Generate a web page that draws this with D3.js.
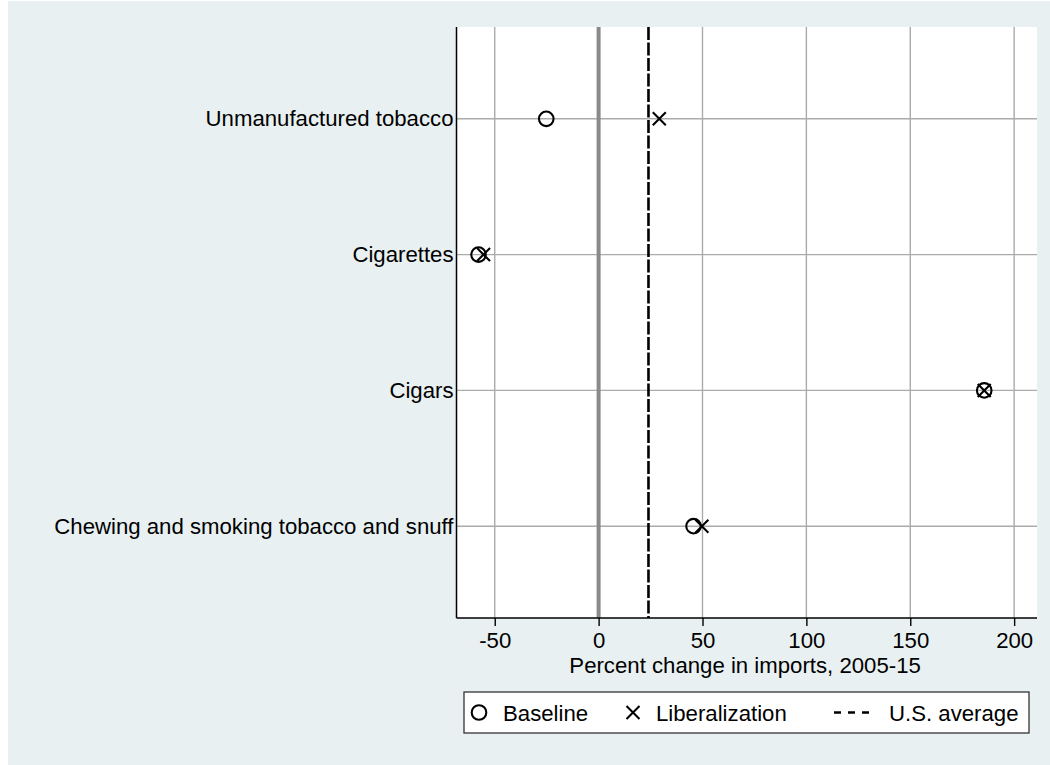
<!DOCTYPE html>
<html>
<head>
<meta charset="utf-8">
<script src="https://cdn.jsdelivr.net/npm/d3@7"></script>
<style>
  html, body { margin: 0; padding: 0; background: #ffffff; }
  svg { display: block; }
  text { font-family: Arial, "Liberation Sans", Helvetica, sans-serif; fill: #000; }
</style>
</head>
<body>
<svg id="chart" width="1050" height="765"></svg>
<script>
// Tobacco product groups, top to bottom
const categories = [
  "Unmanufactured tobacco",
  "Cigarettes",
  "Cigars",
  "Chewing and smoking tobacco and snuff"
];
// Percent change in imports, 2005-15
const baselineValues = [-25.2, -57.8, 185.6, 45.7];
const liberalizationValues = [29.2, -55.4, 185.6, 49.7];
const usAverage = 24;
const xTicks = [-50, 0, 50, 100, 150, 200];
const xTitle = "Percent change in imports, 2005-15";
const legendLabels = ["Baseline", "Liberalization", "U.S. average"];

const svg = d3.select("#chart");
const W = 1050, H = 765;
const plot = { left: 456.5, right: 1037, top: 27, bottom: 618 };
const FONT = 22.2;

// outer graph region
svg.append("rect")
  .attr("x", 8).attr("y", 1).attr("width", W - 8).attr("height", H - 1)
  .attr("fill", "#e8f0f2");

// plot region
svg.append("rect")
  .attr("x", plot.left).attr("y", plot.top)
  .attr("width", plot.right - plot.left).attr("height", plot.bottom - plot.top)
  .attr("fill", "#ffffff");

const x = d3.scaleLinear().domain([-68.4, 211]).range([plot.left, plot.right]);
const y = d3.scaleLinear().domain([-0.676, categories.length - 1 + 0.676])
  .range([plot.top, plot.bottom]);

const grid = svg.append("g");
// vertical grid lines
grid.selectAll("line.vg").data(xTicks.filter(t => t !== 0)).join("line")
  .attr("class", "vg")
  .attr("x1", d => x(d)).attr("x2", d => x(d))
  .attr("y1", plot.top).attr("y2", plot.bottom)
  .attr("stroke", "#ababab").attr("stroke-width", 1.4);
// horizontal grid lines at each category
grid.selectAll("line.hg").data(categories).join("line")
  .attr("class", "hg")
  .attr("x1", plot.left).attr("x2", plot.right)
  .attr("y1", (d, i) => y(i)).attr("y2", (d, i) => y(i))
  .attr("stroke", "#ababab").attr("stroke-width", 1.4);

// zero reference line
svg.append("line")
  .attr("x1", x(0)).attr("x2", x(0))
  .attr("y1", plot.top).attr("y2", plot.bottom)
  .attr("stroke", "#8a8a8a").attr("stroke-width", 4);

// U.S. average reference line
svg.append("line")
  .attr("x1", x(usAverage)).attr("x2", x(usAverage))
  .attr("y1", plot.top).attr("y2", plot.bottom)
  .attr("stroke", "#000").attr("stroke-width", 2.6)
  .attr("stroke-dasharray", "13,2.5");

// axes
const xAxis = d3.axisBottom(x).tickValues(xTicks).tickSize(8).tickPadding(6)
  .tickFormat(d => String(d));
const gx = svg.append("g").attr("transform", `translate(0,${plot.bottom})`).call(xAxis);
gx.select(".domain").attr("d", `M${plot.left},0H${plot.right}`).attr("stroke", "#000").attr("stroke-width", 1.5);
gx.selectAll(".tick line").attr("stroke", "#000").attr("stroke-width", 1.4);
gx.selectAll(".tick text").attr("font-size", FONT).attr("font-family", "Arial, 'Liberation Sans', sans-serif").attr("fill", "#000");

const yAxis = d3.axisLeft(y).tickValues(d3.range(categories.length))
  .tickSize(0).tickPadding(3).tickFormat(i => categories[i]);
const gy = svg.append("g").attr("transform", `translate(${plot.left},0)`).call(yAxis);
gy.select(".domain").attr("d", `M0,${plot.top}V${plot.bottom}`).attr("stroke", "#000").attr("stroke-width", 1.5);
gy.selectAll(".tick text").attr("font-size", FONT).attr("font-family", "Arial, 'Liberation Sans', sans-serif").attr("fill", "#000");

// axis title
svg.append("text")
  .attr("x", x(70.5)).attr("y", 673)
  .attr("text-anchor", "middle").attr("font-size", FONT)
  .text(xTitle);

// markers
const markerStroke = 2.1;
function drawCircle(g, cx, cy) {
  g.append("circle").attr("cx", cx).attr("cy", cy).attr("r", 7.3)
    .attr("fill", "none").attr("stroke", "#000").attr("stroke-width", markerStroke);
}
function drawCross(g, cx, cy) {
  const s = 6.5;
  g.append("path")
    .attr("d", `M${cx - s},${cy - s}L${cx + s},${cy + s}M${cx - s},${cy + s}L${cx + s},${cy - s}`)
    .attr("stroke", "#000").attr("stroke-width", markerStroke).attr("fill", "none");
}
const marks = svg.append("g");
baselineValues.forEach((v, i) => drawCircle(marks, x(v), y(i)));
liberalizationValues.forEach((v, i) => drawCross(marks, x(v), y(i)));

// legend
const lg = svg.append("g");
lg.append("rect").attr("x", 464).attr("y", 692).attr("width", 565).attr("height", 41)
  .attr("fill", "#ffffff").attr("stroke", "#333").attr("stroke-width", 1.3);
const ly = 712.5;
drawCircle(lg, 479, ly);
lg.append("text").attr("x", 503).attr("y", ly + 8).attr("font-size", FONT).text(legendLabels[0]);
drawCross(lg, 633, ly);
lg.append("text").attr("x", 656).attr("y", ly + 8).attr("font-size", FONT).text(legendLabels[1]);
lg.append("line").attr("x1", 834).attr("x2", 869).attr("y1", ly).attr("y2", ly)
  .attr("stroke", "#000").attr("stroke-width", 2.6).attr("stroke-dasharray", "7,7");
lg.append("text").attr("x", 889).attr("y", ly + 8).attr("font-size", FONT).text(legendLabels[2]);
</script>
</body>
</html>
